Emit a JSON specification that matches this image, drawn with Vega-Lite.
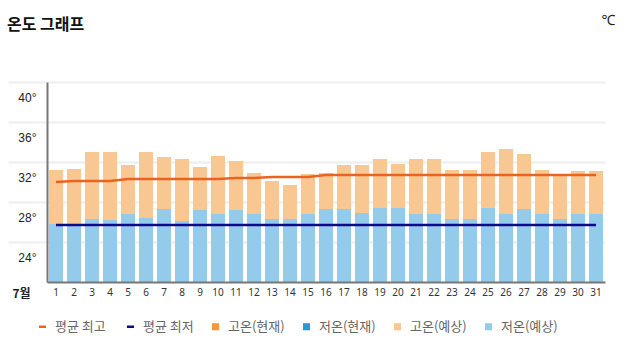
{
  "$schema": "https://vega.github.io/schema/vega-lite/v6.json",
  "autosize": {"type": "none"},
  "padding": {"left": 47, "top": 82, "right": 21, "bottom": 71},
  "width": 558,
  "height": 200,
  "background": "white",
  "title": {
    "text": "온도 그래프",
    "anchor": "start",
    "frame": "group",
    "dx": -40,
    "dy": 20,
    "font": "Noto Sans CJK KR",
    "fontSize": 16,
    "fontWeight": "bold",
    "color": "#111",
    "offset": 0
  },
  "data": {
    "values": [
      {"day": 1, "high": 32.7, "low": 27.3, "avgHigh": 31.5, "avgLow": 27.2},
      {"day": 2, "high": 32.8, "low": 27.3, "avgHigh": 31.6, "avgLow": 27.2},
      {"day": 3, "high": 34.5, "low": 27.8, "avgHigh": 31.6, "avgLow": 27.2},
      {"day": 4, "high": 34.5, "low": 27.7, "avgHigh": 31.6, "avgLow": 27.2},
      {"day": 5, "high": 33.2, "low": 28.3, "avgHigh": 31.8, "avgLow": 27.2},
      {"day": 6, "high": 34.5, "low": 27.9, "avgHigh": 31.8, "avgLow": 27.2},
      {"day": 7, "high": 34.0, "low": 28.8, "avgHigh": 31.8, "avgLow": 27.2},
      {"day": 8, "high": 33.8, "low": 27.6, "avgHigh": 31.8, "avgLow": 27.2},
      {"day": 9, "high": 33.0, "low": 28.7, "avgHigh": 31.8, "avgLow": 27.2},
      {"day": 10, "high": 34.1, "low": 28.3, "avgHigh": 31.8, "avgLow": 27.2},
      {"day": 11, "high": 33.6, "low": 28.7, "avgHigh": 31.9, "avgLow": 27.2},
      {"day": 12, "high": 32.4, "low": 28.3, "avgHigh": 31.9, "avgLow": 27.2},
      {"day": 13, "high": 31.6, "low": 27.8, "avgHigh": 32.0, "avgLow": 27.2},
      {"day": 14, "high": 31.2, "low": 27.8, "avgHigh": 32.0, "avgLow": 27.2},
      {"day": 15, "high": 32.3, "low": 28.3, "avgHigh": 32.0, "avgLow": 27.2},
      {"day": 16, "high": 32.4, "low": 28.8, "avgHigh": 32.2, "avgLow": 27.2},
      {"day": 17, "high": 33.2, "low": 28.8, "avgHigh": 32.2, "avgLow": 27.2},
      {"day": 18, "high": 33.2, "low": 28.4, "avgHigh": 32.2, "avgLow": 27.2},
      {"day": 19, "high": 33.8, "low": 28.9, "avgHigh": 32.2, "avgLow": 27.2},
      {"day": 20, "high": 33.3, "low": 28.9, "avgHigh": 32.2, "avgLow": 27.2},
      {"day": 21, "high": 33.8, "low": 28.3, "avgHigh": 32.2, "avgLow": 27.2},
      {"day": 22, "high": 33.8, "low": 28.3, "avgHigh": 32.2, "avgLow": 27.2},
      {"day": 23, "high": 32.7, "low": 27.8, "avgHigh": 32.2, "avgLow": 27.2},
      {"day": 24, "high": 32.7, "low": 27.8, "avgHigh": 32.2, "avgLow": 27.2},
      {"day": 25, "high": 34.5, "low": 28.9, "avgHigh": 32.2, "avgLow": 27.2},
      {"day": 26, "high": 34.8, "low": 28.3, "avgHigh": 32.2, "avgLow": 27.2},
      {"day": 27, "high": 34.3, "low": 28.8, "avgHigh": 32.2, "avgLow": 27.2},
      {"day": 28, "high": 32.7, "low": 28.3, "avgHigh": 32.2, "avgLow": 27.2},
      {"day": 29, "high": 32.1, "low": 27.8, "avgHigh": 32.2, "avgLow": 27.2},
      {"day": 30, "high": 32.6, "low": 28.3, "avgHigh": 32.2, "avgLow": 27.2},
      {"day": 31, "high": 32.6, "low": 28.3, "avgHigh": 32.2, "avgLow": 27.2}
    ]
  },
  "encoding": {
    "x": {
      "field": "day",
      "type": "ordinal",
      "scale": {"paddingInner": 0.22, "paddingOuter": 0.11},
      "axis": {
        "title": "7월",
        "titleX": -35,
        "titleY": 11,
        "titleAlign": "left",
        "titleBaseline": "middle",
        "titleFont": "Noto Sans CJK KR",
        "titleFontSize": 12,
        "titleFontWeight": "bold",
        "titleColor": "#222",
        "labelAngle": 0,
        "labelFont": "Noto Sans",
        "labelFontSize": 10,
        "labelColor": "#333",
        "labelPadding": 5,
        "ticks": false,
        "domainColor": "#777",
        "domainWidth": 2,
        "grid": false,
        "zindex": 1
      }
    }
  },
  "layer": [
    {
      "mark": {"type": "bar", "clip": true},
      "encoding": {
        "y": {
          "field": "high",
          "type": "quantitative",
          "scale": {"domain": [21.5, 41.5], "zero": false, "nice": false},
          "axis": {
            "values": [20, 24, 28, 32, 36, 40],
            "tickOffset": -15,
            "labelOffset": 15,
            "labelExpr": "datum.value < 22 ? '' : datum.value + '°'",
            "labelFont": "Liberation Sans",
            "labelFontSize": 12,
            "labelColor": "#222",
            "labelPadding": -28,
            "tickSize": 39,
            "tickWidth": 2,
            "tickColor": {"condition": {"test": "datum.value < 22", "value": "#777"}, "value": "#eeeeee"},
            "grid": true,
            "gridColor": {"condition": {"test": "datum.value < 22", "value": "#777"}, "value": "#eeeeee"},
            "gridWidth": 2,
            "domainColor": "#777",
            "domainWidth": 2,
            "title": "℃",
            "titleAngle": 0,
            "titleX": 561,
            "titleY": -62,
            "titleAlign": "center",
            "titleBaseline": "middle",
            "titleFont": "Noto Sans",
            "titleFontSize": 14,
            "titleFontWeight": "normal",
            "titleColor": "#222"
          }
        },
        "color": {
          "datum": "고온(예상)",
          "scale": {
            "domain": ["평균 최고", "평균 최저", "고온(현재)", "저온(현재)", "고온(예상)", "저온(예상)"],
            "range": ["#ea6420", "#0a0a8a", "#f7963e", "#2b98d6", "#f9c791", "#95cbea"]
          },
          "legend": {
            "orient": "none",
            "legendX": -11,
            "legendY": 238,
            "direction": "horizontal",
            "title": null,
            "symbolType": "square",
            "symbolSize": 50,
            "labelFont": "Noto Sans CJK KR",
            "labelFontSize": 13,
            "labelColor": "#666",
            "labelOffset": 6,
            "columnPadding": 15,
            "encode": {
              "symbols": {
                "update": {
                  "shape": {"signal": "indexof(['평균 최고','평균 최저'], datum.value) >= 0 ? 'stroke' : 'square'"},
                  "strokeWidth": {"signal": "indexof(['평균 최고','평균 최저'], datum.value) >= 0 ? 2.5 : 0"},
                  "stroke": {"scale": "color", "field": "value"},
                  "fill": {"scale": "color", "field": "value"},
                  "opacity": {"value": 1},
                  "fillOpacity": {"value": 1},
                  "strokeOpacity": {"value": 1}
                }
              }
            }
          }
        }
      }
    },
    {
      "mark": {"type": "bar", "clip": true},
      "encoding": {
        "y": {"field": "low", "type": "quantitative"},
        "color": {"datum": "저온(예상)"}
      }
    },
    {
      "mark": {"type": "line", "strokeWidth": 2.5},
      "encoding": {
        "y": {"field": "avgHigh", "type": "quantitative"},
        "color": {"datum": "평균 최고"}
      }
    },
    {
      "mark": {"type": "line", "strokeWidth": 2.5},
      "encoding": {
        "y": {"field": "avgLow", "type": "quantitative"},
        "color": {"datum": "평균 최저"}
      }
    }
  ],
  "config": {
    "view": {"stroke": null}
  }
}
